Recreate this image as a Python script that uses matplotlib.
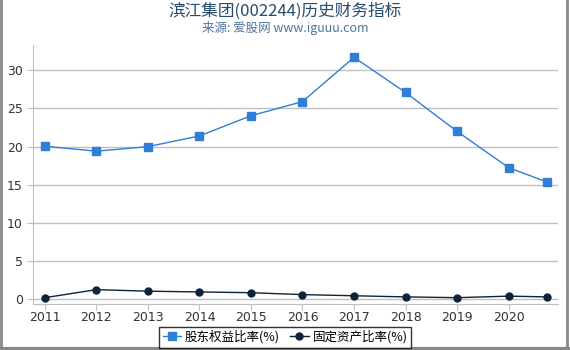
import matplotlib.pyplot as plt
from matplotlib.lines import Line2D

plt.rcParams['font.family'] = ['DejaVu Sans', 'Noto Sans CJK SC']

years = [2011, 2012, 2013, 2014, 2015, 2016, 2017, 2018, 2019, 2020, 2020.75]
equity_ratio = [20.05, 19.4, 20.0, 21.4, 24.05, 25.9, 31.7, 27.1, 22.0, 17.25, 15.35]
fixed_ratio = [0.2, 1.25, 1.05, 0.95, 0.85, 0.6, 0.45, 0.3, 0.2, 0.4, 0.3]
xticks = [2011, 2012, 2013, 2014, 2015, 2016, 2017, 2018, 2019, 2020]
yticks = [0, 5, 10, 15, 20, 25, 30]

fig = plt.figure(figsize=(5.7, 3.5), dpi=100)
ax = fig.add_axes([0.058, 0.131, 0.921, 0.74])

ax.plot(years, equity_ratio, color='#2f7ed8', lw=1, marker='s', ms=5.5,
        label='股东权益比率(%)', zorder=3)
ax.plot(years, fixed_ratio, color='#0d233a', lw=1, marker='o', ms=5,
        label='固定资产比率(%)', zorder=3)

ax.set_xlim(2010.77, 2020.96)
ax.set_ylim(-0.65, 33.3)
ax.set_xticks(xticks)
ax.set_xticklabels([str(x) for x in xticks])
ax.set_yticks(yticks)
ax.grid(axis='y', color='#c0c0c0', lw=1)
ax.set_axisbelow(True)
for s in ['top', 'right']:
    ax.spines[s].set_visible(False)
ax.spines['left'].set_color('#c0c0c0')
ax.spines['bottom'].set_color('#c0c0c0')
ax.tick_params(axis='both', colors='#c0c0c0', labelcolor='#333333', labelsize=9, length=4)
ax.tick_params(axis='x', pad=1)

fig.text(0.5, 0.968, '滨江集团(002244)历史财务指标', ha='center', va='center',
         fontsize=12, color='#274b6d', family=['Noto Sans CJK SC', 'DejaVu Sans'])
fig.text(0.5, 0.92, '来源: 爱股网 www.iguuu.com', ha='center', va='center',
         fontsize=9, color='#4d759e', family=['Noto Sans CJK SC', 'DejaVu Sans'])

leg = fig.legend(loc='center', bbox_to_anchor=(0.5, 0.037), ncol=2, frameon=True,
                 fancybox=False, edgecolor='black', fontsize=9, handlelength=1.5,
                 handletextpad=0.3, columnspacing=0.8, borderpad=0.3,
                 prop={'family': ['Noto Sans CJK SC', 'DejaVu Sans'], 'size': 9})
leg.get_frame().set_linewidth(1)

fig.add_artist(Line2D([0.001, 0.001], [0, 1], color='#888888', lw=2, transform=fig.transFigure))
fig.add_artist(Line2D([0.995, 0.995], [0, 1], color='#888888', lw=2, transform=fig.transFigure))
fig.add_artist(Line2D([0, 1], [0.003, 0.003], color='#888888', lw=3, transform=fig.transFigure))

fig.savefig('out.png', dpi=100)
